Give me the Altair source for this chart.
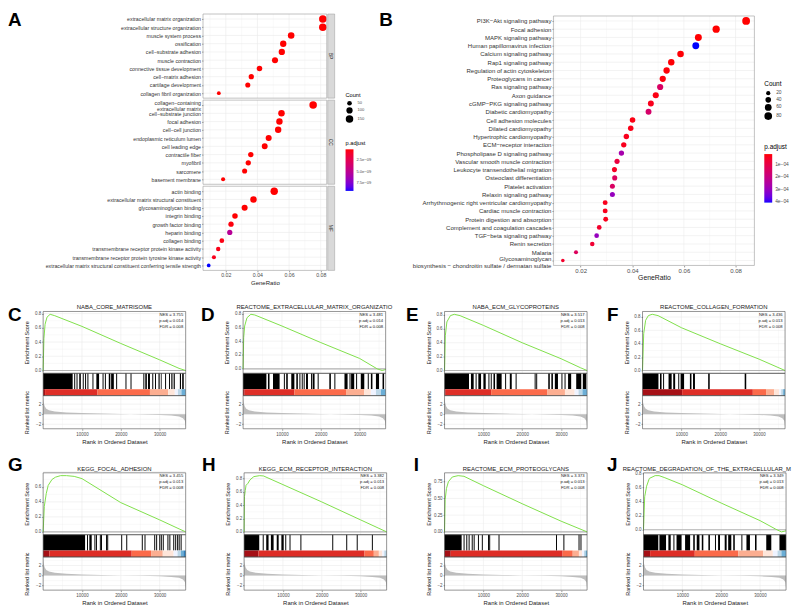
import altair as alt
import pandas as pd

FONT = "Liberation Sans"
CW, CH = 784, 601
GRID = "#EBEBEB"
TXT = "#4D4D4D"
FRAME_AB = "#9A9A9A"
FRAME_G = "#4D4D4D"
GREEN = "#7FE04A"

# ---------------- Panel A : GO dot plot ----------------
BP_TERMS = ["extracellular matrix organization", "extracellular structure organization",
            "muscle system process", "ossification", "cell−substrate adhesion", "muscle contraction",
            "connective tissue development", "cell−matrix adhesion", "cartilage development",
            "collagen fibril organization"]
BP_RATIO = [0.0813, 0.0813, 0.0613, 0.0563, 0.0554, 0.0511, 0.0413, 0.0361, 0.0339, 0.0156]
BP_COUNT = [150, 150, 113, 104, 102, 94, 76, 67, 63, 29]
BP_PADJ = [1e-40, 1e-40, 1e-30, 1e-26, 1e-26, 1e-22, 1e-18, 1e-16, 1e-15, 1e-12]

CC_TERMS = ["collagen−containing extracellular matrix", "cell−substrate junction", "focal adhesion",
            "cell−cell junction", "endoplasmic reticulum lumen", "cell leading edge",
            "contractile fiber", "myofibril", "sarcomere", "basement membrane"]
CC_RATIO = [0.0752, 0.0552, 0.0539, 0.0531, 0.0471, 0.0446, 0.0358, 0.0342, 0.0319, 0.0183]
CC_COUNT = [152, 110, 107, 106, 94, 89, 71, 68, 63, 36]
CC_PADJ = [1e-38, 1e-24, 1e-24, 1e-20, 1e-18, 1e-16, 1e-15, 1e-14, 1e-13, 1e-12]

MF_TERMS = ["actin binding", "extracellular matrix structural constituent", "glycosaminoglycan binding",
            "integrin binding", "growth factor binding", "heparin binding", "collagen binding",
            "transmembrane receptor protein kinase activity",
            "transmembrane receptor protein tyrosine kinase activity",
            "extracellular matrix structural constituent conferring tensile strength"]
MF_RATIO = [0.0506, 0.0375, 0.0319, 0.0258, 0.0233, 0.0225, 0.0175, 0.0152, 0.0125, 0.0092]
MF_COUNT = [147, 109, 93, 75, 68, 66, 51, 44, 36, 27]
MF_PADJ = [1e-14, 1e-13, 1e-12, 1e-11, 2e-10, 5.2e-9, 3e-10, 4e-10, 5e-10, 9.3e-9]

A_XTICKS = [0.02, 0.04, 0.06, 0.08]
A_XMINOR = [0.01, 0.03, 0.05, 0.07]
A_XDOM = [0.0056, 0.0838]
A_COUNT_LEGEND = [50, 100, 150]
A_PADJ_LEGEND = [2.5e-9, 5.0e-9, 7.5e-9]
A_PMAX = 9.3e-9

# ---------------- Panel B : KEGG dot plot ----------------
B_TERMS = ["PI3K−Akt signaling pathway", "Focal adhesion", "MAPK signaling pathway",
           "Human papillomavirus infection", "Calcium signaling pathway", "Rap1 signaling pathway",
           "Regulation of actin cytoskeleton", "Proteoglycans in cancer", "Ras signaling pathway",
           "Axon guidance", "cGMP−PKG signaling pathway", "Diabetic cardiomyopathy",
           "Cell adhesion molecules", "Dilated cardiomyopathy", "Hypertrophic cardiomyopathy",
           "ECM−receptor interaction", "Phospholipase D signaling pathway",
           "Vascular smooth muscle contraction", "Leukocyte transendothelial migration",
           "Osteoclast differentiation", "Platelet activation", "Relaxin signaling pathway",
           "Arrhythmogenic right ventricular cardiomyopathy", "Cardiac muscle contraction",
           "Protein digestion and absorption", "Complement and coagulation cascades",
           "TGF−beta signaling pathway", "Renin secretion", "Malaria",
           "Glycosaminoglycan biosynthesis − chondroitin sulfate / dermatan sulfate"]
B_RATIO = [0.0841, 0.0725, 0.0656, 0.0646, 0.0587, 0.0551, 0.0533, 0.0518, 0.0508, 0.0491,
           0.0472, 0.0463, 0.0401, 0.0394, 0.0377, 0.0367, 0.0358, 0.0341, 0.0331, 0.0332,
           0.0323, 0.0323, 0.0295, 0.0295, 0.0297, 0.0272, 0.0262, 0.0245, 0.0182, 0.0131]
B_COUNT = [82, 71, 64, 63, 57, 54, 52, 51, 50, 48, 46, 45, 39, 38, 37, 36, 35, 33, 32, 32,
           31, 31, 29, 29, 29, 27, 26, 24, 18, 13]
B_PADJ = [2e-6, 4e-6, 8e-6, 4.08e-4, 1e-5, 1e-5, 1.2e-5, 1.5e-5, 1.4e-4, 2e-5,
          3e-5, 1.5e-4, 2e-5, 2.5e-5, 3e-5, 3e-5, 2.7e-4, 8e-5, 4e-5, 1.3e-4,
          1.4e-4, 3.0e-4, 3e-5, 3e-5, 3e-5, 5e-5, 3.0e-4, 6e-5, 1.3e-4, 5e-5]
B_XTICKS = [0.02, 0.04, 0.06, 0.08]
B_XMINOR = [0.01, 0.03, 0.05, 0.07]
B_XDOM = [0.00946, 0.0873]
B_COUNT_LEGEND = [20, 40, 60, 80]
B_PADJ_LEGEND = [1e-4, 2e-4, 3e-4, 4e-4]
B_PMIN, B_PMAX = 7e-6, 4.08e-4

# ---------------- GSEA panels ----------------
N_GENES = 36700
X_MAJOR = [10000, 20000, 30000]
X_MINOR = [5000, 15000, 25000, 35000]
ES_TICKS = [0.0, 0.2, 0.4, 0.6, 0.8]
ES_TICKS_Q = [0.0, 0.25, 0.5, 0.75]
RANK_TICKS = [-2, 0, 2]
RANK_MINOR = [-3, -1, 1, 3]

RANK_X = [0, 150, 400, 800, 1500, 3000, 6000, 10000, 15000, 20000, 25000, 30000, 33000, 35000,
          36000, 36500, 36700]
RANK_Y = [3.4, 2.3, 1.6, 1.1, 0.8, 0.55, 0.35, 0.22, 0.12, 0.03, -0.05, -0.15, -0.28, -0.45,
          -0.8, -1.3, -2.6]

STRIP_LEVELS = [10, 9, 8, 7, 6, 5, 4, 3, 2, 1]
STRIP_COLORS = ["#A50F15", "#DE2D26", "#FB6A4A", "#FCAE91", "#FEE5D9",
                "#EFF3FF", "#BDD7E7", "#6BAED6", "#3182BD", "#08519C"]

C_TITLE = "NABA_CORE_MATRISOME"
C_STATS = "NES = 3.755\np.adj = 0.014\nFDR = 0.008"
C_ES_X = [0, 200, 500, 1000, 1800, 3000, 10000, 20000, 30000, 35000, 36700]
C_ES_Y = [0, 0.45, 0.65, 0.75, 0.79, 0.77, 0.62, 0.38, 0.15, 0.03, 0.0]
C_HIT_S = [0, 8000, 8600, 9300, 10200, 10800, 11400, 12700, 13700, 15300, 15900, 16900, 17500,
           18800, 21200, 22500, 25800, 26300, 27000, 28100, 28800, 29700, 30300, 31400, 32400,
           33000, 33600, 35200, 35800]
C_HIT_E = [7600, 8250, 8850, 9700, 10450, 11050, 11650, 12950, 14400, 15550, 16150, 17300, 18200,
           19050, 21450, 22750, 26050, 26700, 27500, 28350, 29050, 30000, 30500, 31650, 32650,
           33300, 33900, 35500, 36200]
C_STRIP = [0, 500, 14000, 27500, 32200, 33900, 34700, 35600, 36700]

D_TITLE = "REACTOME_EXTRACELLULAR_MATRIX_ORGANIZATIO"
D_STATS = "NES = 3.481\np.adj = 0.014\nFDR = 0.008"
D_ES_X = [0, 150, 400, 1000, 2000, 3000, 10000, 20000, 30000, 34500, 35800, 36700]
D_ES_Y = [0, 0.45, 0.62, 0.74, 0.79, 0.78, 0.62, 0.38, 0.15, 0.0, -0.025, -0.01]
D_HIT_S = [0, 6400, 7700, 10500, 11100, 12400, 13700, 14500, 15100, 15600, 16200, 17500, 17900,
           19200, 22200, 23500, 26100, 27400, 27800, 29100, 30300, 32100, 32900, 34200, 35900]
D_HIT_E = [6000, 6800, 9400, 10750, 11500, 13200, 14100, 14750, 15350, 15850, 16700, 17750, 18400,
           19450, 22600, 23750, 26900, 27650, 28600, 29350, 31200, 32350, 33300, 35000, 36300]
D_STRIP = [0, 400, 13200, 26500, 31200, 32900, 34200, 35500, 36700]

E_TITLE = "NABA_ECM_GLYCOPROTEINS"
E_STATS = "NES = 3.517\np.adj = 0.013\nFDR = 0.008"
E_ES_X = [0, 200, 600, 1500, 2500, 4000, 10000, 20000, 30000, 35000, 36700]
E_ES_Y = [0, 0.5, 0.7, 0.79, 0.81, 0.79, 0.65, 0.4, 0.17, 0.04, 0.0]
E_HIT_S = [0, 6800, 8000, 8700, 10000, 11300, 11900, 12600, 13400, 15600, 16800, 18300, 23200,
           23600, 26700, 27500, 28400, 30100, 30900, 31800, 33900, 35600]
E_HIT_E = [6300, 7500, 8250, 9400, 10600, 11550, 12150, 13000, 14700, 15850, 17300, 18550, 23450,
           23850, 27100, 27900, 29200, 30350, 31150, 32600, 35200, 36500]
E_STRIP = [0, 300, 12000, 26500, 31000, 33500, 34500, 35500, 36700]

F_TITLE = "REACTOME_COLLAGEN_FORMATION"
F_STATS = "NES = 3.436\np.adj = 0.013\nFDR = 0.008"
F_ES_X = [0, 300, 800, 1500, 2500, 4000, 10000, 20000, 30000, 36700]
F_ES_Y = [0, 0.55, 0.75, 0.82, 0.84, 0.82, 0.64, 0.4, 0.17, 0.0]
F_HIT_S = [0, 4500, 5300, 6700, 7900, 9200, 9800, 12200, 13000, 16900, 26300]
F_HIT_E = [4100, 4900, 5550, 7500, 8400, 9450, 10700, 12600, 13500, 17300, 26700]
F_STRIP = [0, 10200, 28400, 31800, 33900, 35200, 35700, 36200, 36700]

G_TITLE = "KEGG_FOCAL_ADHESION"
G_STATS = "NES = 3.455\np.adj = 0.013\nFDR = 0.008"
G_ES_X = [0, 300, 800, 1300, 2300, 3200, 4500, 6000, 8000, 10000, 20000, 30000, 35000, 36700]
G_ES_Y = [0, 0.34, 0.51, 0.62, 0.70, 0.73, 0.75, 0.75, 0.74, 0.71, 0.39, 0.16, 0.04, 0.0]
G_HIT_S = [0, 11300, 11900, 13200, 13600, 14600, 14900, 16200, 16500, 20100, 21400, 25400, 26100,
           28600, 29100, 29900, 30300, 30800, 32000, 32500, 33500, 34000, 34500, 34900, 35400]
G_HIT_E = [10800, 11550, 12500, 13450, 13850, 14850, 15150, 16450, 16750, 20350, 21650, 25650, 26350,
           28850, 29350, 30150, 30550, 31050, 32250, 32750, 33750, 34250, 34750, 35150, 35650]
G_STRIP = [0, 1600, 22800, 27800, 30800, 33600, 34600, 35500, 36100, 36700]

H_TITLE = "KEGG_ECM_RECEPTOR_INTERACTION"
H_STATS = "NES = 3.382\np.adj = 0.013\nFDR = 0.008"
H_ES_X = [0, 100, 300, 500, 1000, 1500, 2500, 4000, 5000, 10000, 20000, 30000, 36700]
H_ES_Y = [0, 0.53, 0.62, 0.70, 0.73, 0.78, 0.83, 0.845, 0.84, 0.71, 0.45, 0.18, 0.0]
H_HIT_S = [0, 4800, 5700, 6900, 8400, 9600, 10600, 11700, 14500, 22700, 26300, 29000, 32900]
H_HIT_E = [3900, 5050, 6300, 7600, 8900, 10200, 10850, 11950, 14750, 22950, 26550, 29250, 33150]
H_STRIP = [0, 3700, 31000, 33400, 34700, 35600, 36100, 36700]

I_TITLE = "REACTOME_ECM_PROTEOGLYCANS"
I_STATS = "NES = 3.373\np.adj = 0.013\nFDR = 0.008"
I_ES_X = [0, 150, 500, 1000, 2000, 3500, 5000, 10000, 20000, 30000, 36700]
I_ES_Y = [0, 0.48, 0.65, 0.75, 0.82, 0.84, 0.83, 0.69, 0.42, 0.16, 0.0]
I_HIT_S = [0, 4900, 5600, 6200, 7000, 7500, 8600, 9600, 11200, 11500, 13900, 28700, 30600, 34500,
           35000]
I_HIT_E = [4400, 5150, 5850, 6450, 7250, 7750, 8850, 9850, 11450, 11750, 14150, 28950, 30850, 34750,
           35250]
I_STRIP = [0, 1600, 30400, 33000, 34600, 35400, 35900, 36300, 36700]

J_TITLE = "REACTOME_DEGRADATION_OF_THE_EXTRACELLULAR_M"
J_STATS = "NES = 3.349\np.adj = 0.013\nFDR = 0.008"
J_ES_X = [0, 300, 800, 1500, 3000, 4000, 5500, 10000, 20000, 30000, 34000, 35500, 36700]
J_ES_Y = [0, 0.47, 0.62, 0.73, 0.77, 0.77, 0.74, 0.64, 0.38, 0.13, 0.01, -0.03, -0.015]
J_HIT_S = [0, 4100, 6400, 7700, 8500, 10700, 12800, 13700, 15000, 16700, 18400, 19200, 20900,
           21800, 23100, 25200, 26500, 28700, 31600, 35000]
J_HIT_E = [3800, 5800, 7000, 7950, 9800, 12000, 13200, 14400, 15400, 17100, 18650, 19700, 21400,
           22600, 23500, 25450, 27400, 29100, 32900, 36700]
J_STRIP = [0, 1700, 13200, 24400, 30800, 33300, 34500, 35500, 36700]

ONE = pd.DataFrame({"k": [0]})
layers = []


def frame(x0, x1, y0, y1, color, width=0.6):
    return alt.Chart(ONE).mark_rect(fillOpacity=0, stroke=color, strokeWidth=width).encode(
        x=alt.value(x0), x2=alt.value(x1), y=alt.value(y0), y2=alt.value(y1))


def label(t, x, y, size, **kw):
    opts = dict(font=FONT, fontSize=size, color="#1A1A1A")
    opts.update(kw)
    return alt.Chart(pd.DataFrame({"t": [t]})).mark_text(**opts).encode(
        text="t:N", x=alt.value(x), y=alt.value(y))


def letter(ch, x, y):
    return label(ch, x, y, 19, fontWeight="bold", align="left", baseline="alphabetic", color="black")


def vrules(vals, scale, y0, y1, width, color=GRID):
    return alt.Chart(pd.DataFrame({"v": vals})).mark_rule(color=color, strokeWidth=width).encode(
        x=alt.X("v:Q", scale=scale, axis=None), y=alt.value(y0), y2=alt.value(y1))


def hrules(vals, scale, x0, x1, width, typ="Q", color=GRID):
    return alt.Chart(pd.DataFrame({"v": vals})).mark_rule(color=color, strokeWidth=width).encode(
        y=alt.Y("v:" + typ, scale=scale, axis=None), x=alt.value(x0), x2=alt.value(x1))


def axis(**kw):
    base = dict(labelFont=FONT, titleFont=FONT, labelColor=TXT, titleColor="#1A1A1A",
                titleFontWeight="normal", tickColor="#333333", tickWidth=0.5, domain=False,
                grid=False, labelFlush=False, labelOverlap=False, tickSize=1.5, labelPadding=1)
    base.update(kw)
    return alt.Axis(**base)


ML_TEST = ("indexof(datum.value, ' / ') > 0 || "
           "datum.value == 'collagen−containing extracellular matrix'")
ML_EXPR = ("indexof(datum.label, ' / ') > 0 ? "
           "['Glycosaminoglycan', 'biosynthesis − chondroitin sulfate / dermatan sulfate'] : "
           "(datum.label == 'collagen−containing extracellular matrix' ? "
           "['collagen−containing', 'extracellular matrix'] : datum.label)")


def dot_layers(terms, ratio, count, padj, x0, x1, y0, y1, xdom, xticks, xminor, size_dom, size_rng,
               pmin, pmax, fs, lh, lo, frame_col, show_x=False, strip=None, legends=None):
    xs = alt.Scale(domain=xdom, range=[x0, x1], nice=False, zero=False)
    ys = alt.Scale(type="point", domain=terms, range=[y0, y1], padding=0.6)
    out = [vrules(xminor, xs, y0, y1, 0.3), vrules(xticks, xs, y0, y1, 0.6),
           hrules(terms, ys, x0, x1, 0.6, typ="N")]
    df = pd.DataFrame({"Description": terms, "GeneRatio": ratio, "Count": count,
                       "neg": [-p for p in padj]})
    yax = axis(orient="left", offset=-x0, title=None, labelFontSize=fs, labelColor="#333333",
               labelLimit=500, labelLineHeight=lh, labelExpr=ML_EXPR,
               labelOffset={"condition": {"test": ML_TEST, "value": lo}, "value": 0})
    if show_x:
        xax = axis(orient="bottom", offset=y1 - CH, values=xticks, format=".2f", labelFontSize=fs,
                   title="GeneRatio", titleFontSize=fs + 0.8, titlePadding=1)
    else:
        xax = None
    if legends:
        size_leg = alt.Legend(title="Count", orient="none", legendX=legends[0], legendY=legends[1],
                              values=legends[2], titleFontSize=fs + 0.4, titleFontWeight="normal",
                              titleFont=FONT, labelFont=FONT, labelFontSize=fs - 1.2, labelColor=TXT,
                              symbolFillColor="black", symbolStrokeColor="black", symbolStrokeWidth=0,
                              symbolType="circle", symbolOpacity=1, rowPadding=1.2, titlePadding=3,
                              labelOffset=4)
        col_leg = alt.Legend(title="p.adjust", orient="none", legendX=legends[0], legendY=legends[3],
                             values=[-v for v in legends[4]], labelExpr=legends[5],
                             direction="vertical", gradientLength=legends[6], gradientThickness=8,
                             gradientStrokeWidth=0, titleFontSize=fs + 0.4, titleFontWeight="normal",
                             titleFont=FONT, labelFont=FONT, labelFontSize=fs - 1.2, labelColor=TXT,
                             titlePadding=4, labelOffset=3)
    else:
        size_leg = None
        col_leg = None
    out.append(alt.Chart(df).mark_circle(opacity=1).encode(
        x=alt.X("GeneRatio:Q", scale=xs, axis=xax),
        y=alt.Y("Description:N", scale=ys, axis=yax),
        size=alt.Size("Count:Q", scale=alt.Scale(domain=size_dom, range=size_rng), legend=size_leg),
        color=alt.Color("neg:Q", scale=alt.Scale(domain=[-pmax, -pmin], range=["#0000FF", "#FF0000"],
                                                 interpolate="lab"), legend=col_leg)))
    out.append(frame(x0, x1, y0, y1, frame_col))
    if strip:
        out.append(alt.Chart(ONE).mark_rect(fill="#D9D9D9", stroke=frame_col, strokeWidth=0.5).encode(
            x=alt.value(x1 + 1), x2=alt.value(x1 + 8), y=alt.value(y0), y2=alt.value(y1)))
        out.append(label(strip, x1 + 4.5, (y0 + y1) / 2, 5, angle=90, baseline="middle"))
    return out


# ---------- Panel A ----------
AX0, AX1 = 197, 322
A_SIZE_DOM, A_SIZE_RNG = [27, 152], [14, 58]
A_LBL = "replace(format(-datum.value, '.1e'), 'e-', 'e−0')"
layers += dot_layers(BP_TERMS, BP_RATIO, BP_COUNT, BP_PADJ, AX0, AX1, 3, 88, A_XDOM, A_XTICKS,
                     A_XMINOR, A_SIZE_DOM, A_SIZE_RNG, 0, A_PMAX, 5.3, 6, -3, FRAME_AB, strip="BP")
layers += dot_layers(CC_TERMS, CC_RATIO, CC_COUNT, CC_PADJ, AX0, AX1, 90, 175, A_XDOM, A_XTICKS,
                     A_XMINOR, A_SIZE_DOM, A_SIZE_RNG, 0, A_PMAX, 5.3, 6, -3, FRAME_AB, strip="CC",
                     legends=[341, 82, A_COUNT_LEGEND, 130, A_PADJ_LEGEND, A_LBL, 42])
layers += dot_layers(MF_TERMS, MF_RATIO, MF_COUNT, MF_PADJ, AX0, AX1, 177, 262, A_XDOM, A_XTICKS,
                     A_XMINOR, A_SIZE_DOM, A_SIZE_RNG, 0, A_PMAX, 5.3, 6, -3, FRAME_AB, show_x=True,
                     strip="MF")

# ---------- Panel B ----------
B_LBL = "replace(format(-datum.value, '.0e'), 'e-', 'e−0')"
layers += dot_layers(B_TERMS, B_RATIO, B_COUNT, B_PADJ, 551, 754, 5, 257, B_XDOM, B_XTICKS, B_XMINOR,
                     [13, 82], [13, 62], B_PMIN, B_PMAX, 6.1, 7, -2, FRAME_AB, show_x=True,
                     legends=[764, 71, B_COUNT_LEGEND, 134, B_PADJ_LEGEND, B_LBL, 49])
layers += [letter("A", 0, 15), letter("B", 375, 15)]

# ---------- GSEA panels ----------
PW = 144
ES_H, BAR_H, STRIP_H, RANK_H = 62.5, 16, 6.5, 33.5


def midpoints(ticks):
    return [(a + b) / 2 for a, b in zip(ticks[:-1], ticks[1:])]


def gsea_layers(x0, top, let, let_x, let_base, title, stats, es_x, es_y, es_ticks, es_fmt,
                hs, he, strip_edges, title_left=None):
    x1 = x0 + PW
    e0, e1 = top, top + ES_H
    b1 = e1 + BAR_H
    s1 = b1 + STRIP_H
    r0, r1 = s1, s1 + RANK_H
    xs = alt.Scale(domain=[0, N_GENES], range=[x0, x1], nice=False, zero=False)
    lo, hi = min(es_y), max(es_y)
    r = hi - lo
    edom = [lo - 0.05 * r, hi + 0.05 * r]
    ys = alt.Scale(domain=edom, range=[e1, e0], nice=False, zero=False)
    rlo, rhi = min(RANK_Y), max(RANK_Y)
    rr = rhi - rlo
    rdom = [rlo - 0.05 * rr, rhi + 0.05 * rr]
    rs = alt.Scale(domain=rdom, range=[r1, r0], nice=False, zero=False)
    es_minor = [v for v in midpoints(es_ticks) if edom[0] < v < edom[1]]
    rk_minor = [v for v in RANK_MINOR if rdom[0] < v < rdom[1]]
    out = [
        vrules(X_MINOR, xs, e0, e1, 0.3), vrules(X_MAJOR, xs, e0, e1, 0.6),
        hrules(es_minor, ys, x0, x1, 0.3), hrules(es_ticks, ys, x0, x1, 0.6),
        vrules(X_MINOR, xs, r0, r1, 0.3), vrules(X_MAJOR, xs, r0, r1, 0.6),
        hrules(rk_minor, rs, x0, x1, 0.3), hrules(RANK_TICKS, rs, x0, x1, 0.6),
        alt.Chart(pd.DataFrame({"z": [0]})).mark_rule(color="#B3B3B3", strokeWidth=1.2).encode(
            y=alt.Y("z:Q", scale=ys, axis=None), x=alt.value(x0), x2=alt.value(x1)),
    ]
    es_df = pd.DataFrame({"rank": es_x, "es": es_y})
    out.append(alt.Chart(es_df).mark_line(color=GREEN, strokeWidth=1).encode(
        x=alt.X("rank:Q", scale=xs, axis=None),
        y=alt.Y("es:Q", scale=ys, axis=axis(orient="left", offset=-x0, values=es_ticks, format=es_fmt,
                                           labelFontSize=4.5, title="Enrichment Score",
                                           titleFontSize=5.5, titleX=-16.5, titleY=(e0 + e1) / 2,
                                           titleBaseline="middle", titleAngle=270))))
    hit_df = pd.DataFrame({"s": hs, "e": he})
    out.append(alt.Chart(hit_df).mark_rect(color="black").encode(
        x=alt.X("s:Q", scale=xs, axis=None), x2="e:Q", y=alt.value(e1), y2=alt.value(b1)))
    strip_df = pd.DataFrame({"s": strip_edges[:-1], "e": strip_edges[1:],
                             "lvl": STRIP_LEVELS[:len(strip_edges) - 1]})
    out.append(alt.Chart(strip_df).mark_rect().encode(
        x=alt.X("s:Q", scale=xs, axis=None), x2="e:Q", y=alt.value(b1), y2=alt.value(s1),
        color=alt.Color("lvl:O", scale=alt.Scale(domain=STRIP_LEVELS, range=STRIP_COLORS),
                        legend=None)))
    rank_df = pd.DataFrame({"rank": RANK_X, "metric": RANK_Y})
    out.append(alt.Chart(rank_df).mark_area(color="#BEBEBE").encode(
        x=alt.X("rank:Q", scale=xs, axis=axis(orient="bottom", offset=r1 - CH, values=X_MAJOR,
                                              format="d", labelFontSize=4.5,
                                              title="Rank in Ordered Dataset", titleFontSize=6,
                                              titleY=12.5, titleBaseline="middle")),
        y=alt.Y("metric:Q", scale=rs, axis=axis(orient="left", offset=-x0, values=RANK_TICKS,
                                               format="d", labelFontSize=4.5,
                                               title="Ranked list metric", titleFontSize=5.5,
                                               titleX=-16.5, titleY=(r0 + r1) / 2,
                                               titleBaseline="middle", titleAngle=270)),
        y2=alt.datum(0)))
    out += [frame(x0, x1, e0, e1, FRAME_G), frame(x0, x1, e1, s1, FRAME_G),
            frame(x0, x1, r0, r1, FRAME_G)]
    if title_left is None:
        out.append(label(title, (x0 + x1) / 2, e0 - 4, 6, baseline="middle"))
    else:
        out.append(label(title, title_left, e0 - 4, 6, baseline="middle", align="left"))
    out.append(label(stats, x1 - 2.5, e0 + 1.5, 4.2, align="right", baseline="top", lineBreak="\n",
                     lineHeight=5.9))
    out.append(letter(let, let_x, let_base))
    return out


R2, R3 = 303.5, 466.5
L2, L3 = 313, 465
layers += gsea_layers(35.5, R2, "C", 0, L2, C_TITLE, C_STATS, C_ES_X, C_ES_Y, ES_TICKS, ".1f",
                      C_HIT_S, C_HIT_E, C_STRIP)
layers += gsea_layers(237.5, R2, "D", 195, L2, D_TITLE, D_STATS, D_ES_X, D_ES_Y, ES_TICKS, ".1f",
                      D_HIT_S, D_HIT_E, D_STRIP)
layers += gsea_layers(441, R2, "E", 402, L2, E_TITLE, E_STATS, E_ES_X, E_ES_Y, ES_TICKS, ".1f",
                      E_HIT_S, E_HIT_E, E_STRIP)
layers += gsea_layers(641, R2, "F", 605, L2, F_TITLE, F_STATS, F_ES_X, F_ES_Y, ES_TICKS, ".1f",
                      F_HIT_S, F_HIT_E, F_STRIP)
layers += gsea_layers(35.5, R3, "G", 0, L3, G_TITLE, G_STATS, G_ES_X, G_ES_Y, ES_TICKS, ".1f",
                      G_HIT_S, G_HIT_E, G_STRIP)
layers += gsea_layers(238.5, R3, "H", 196, L3, H_TITLE, H_STATS, H_ES_X, H_ES_Y, ES_TICKS, ".1f",
                      H_HIT_S, H_HIT_E, H_STRIP)
layers += gsea_layers(441, R3, "I", 410, L3, I_TITLE, I_STATS, I_ES_X, I_ES_Y, ES_TICKS_Q, ".2f",
                      I_HIT_S, I_HIT_E, I_STRIP)
layers += gsea_layers(642, R3, "J", 605, L3, J_TITLE, J_STATS, J_ES_X, J_ES_Y, ES_TICKS, ".1f",
                      J_HIT_S, J_HIT_E, J_STRIP, title_left=621)

chart = alt.layer(*layers).resolve_scale(
    x="independent", y="independent", color="independent", size="independent"
).properties(width=CW, height=CH, padding=0).configure(font=FONT).configure_view(stroke=None)

chart.save("out.html", embed_options={"renderer": "svg", "actions": False})
